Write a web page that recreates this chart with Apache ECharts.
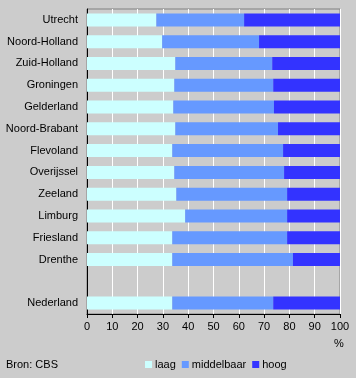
<!DOCTYPE html>
<html><head><meta charset="utf-8">
<script src="https://cdn.jsdelivr.net/npm/echarts@6/dist/echarts.min.js"></script>
<style>html,body{margin:0;padding:0;background:#cccccc;}#c{width:356px;height:378px;}</style>
</head><body><div id="c"></div>
<script>
const categories = ['Utrecht','Noord-Holland','Zuid-Holland','Groningen','Gelderland','Noord-Brabant','Flevoland','Overijssel','Zeeland','Limburg','Friesland','Drenthe','','Nederland'];
const laag =        [27.4, 29.7, 34.9, 34.5, 34.1, 34.9, 33.7, 34.5, 35.3, 38.8, 33.7, 33.7, '-', 33.7];
const middelbaar =  [34.7, 38.3, 38.3, 39.1, 39.8, 40.6, 43.8, 43.4, 43.8, 40.3, 45.4, 47.7, '-', 39.9];
const hoog =        [37.9, 32.0, 26.8, 26.4, 26.1, 24.5, 22.5, 22.1, 20.9, 20.9, 20.9, 18.6, '-', 26.4];
const xTicks = [0,10,20,30,40,50,60,70,80,90,100];
const seriesNames = ['laag','middelbaar','hoog'];
const colors = ['#ccffff','#6699ff','#3333ff'];
const font = 'Liberation Sans, Arial, sans-serif';
const chart = echarts.init(document.getElementById('c'), null, {renderer:'canvas'});
chart.setOption({
  animation:false,
  backgroundColor:'#cccccc',
  textStyle:{fontFamily:font},
  grid:{left:87,right:16,top:9,bottom:64,show:true,borderColor:'#808080',borderWidth:1,backgroundColor:'transparent'},
  xAxis:{type:'value',min:0,max:100,interval:10,
    axisLine:{show:true,lineStyle:{color:'#000',width:1}},
    axisTick:{show:true,length:4,lineStyle:{color:'#000'}},
    axisLabel:{color:'#000',fontSize:11,fontFamily:font,margin:7},
    splitLine:{show:true,lineStyle:{color:'#ffffff',width:1}}},
  yAxis:{type:'category',data:categories,inverse:true,
    axisLine:{show:true,lineStyle:{color:'#000',width:1}},
    axisTick:{show:false},
    axisLabel:{color:'#000',fontSize:11,fontFamily:font,margin:9},
    splitLine:{show:false}},
  legend:{data:seriesNames,left:140,top:354,itemWidth:7,itemHeight:7,itemGap:6,icon:'rect',
    textStyle:{color:'#000',fontSize:11,fontFamily:font,padding:[0,0,0,-2]}},
  graphic:[
    {type:'text',left:6,top:359,style:{text:'Bron: CBS',fill:'#000',font:'11px '+font}},
    {type:'text',left:334,top:338,style:{text:'%',fill:'#000',font:'11px '+font}}
  ],
  series:seriesNames.map((n,i)=>({name:n,type:'bar',stack:'t',barWidth:13,
    itemStyle:{color:colors[i]},data:[laag,middelbaar,hoog][i]}))
});
</script></body></html>
